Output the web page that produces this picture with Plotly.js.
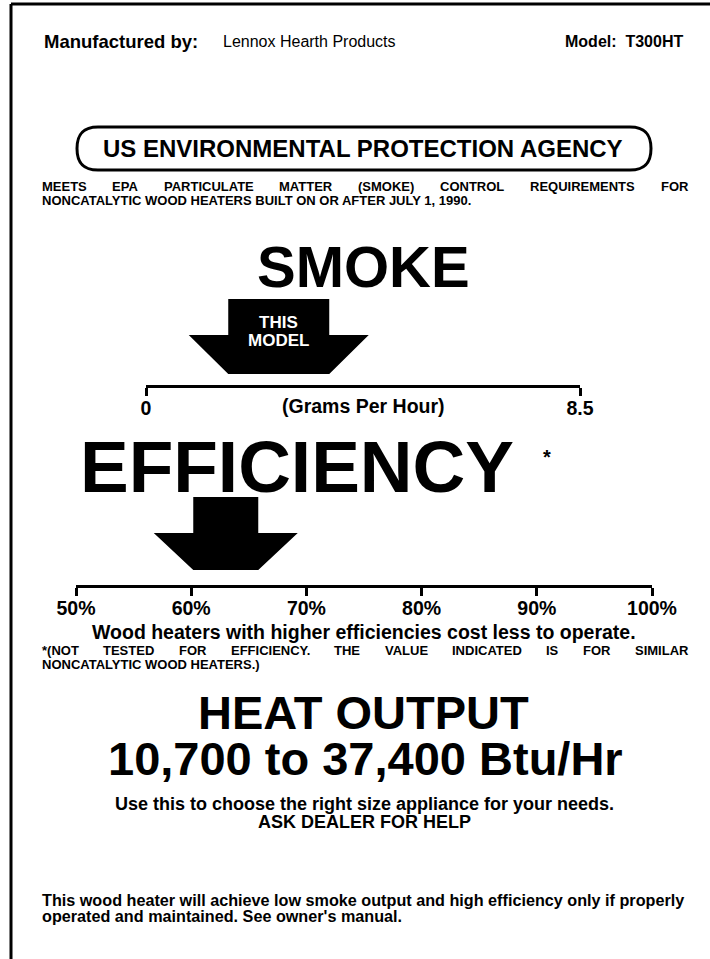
<!DOCTYPE html>
<html>
<head>
<meta charset="utf-8">
<script src="https://cdn.plot.ly/plotly-3.0.1.min.js"></script>
<style>html,body{margin:0;padding:0;background:#fff;}#chart{width:710px;height:959px;}</style>
</head>
<body>
<div id="chart"></div>
<script>
const manufacturer = "Lennox Hearth Products";
const modelName = "T300HT";
const smokeTickVals = [0, 8.5];
const smokeTickText = ["0", "8.5"];
const smokeValue = 2.6;          // grams per hour (arrow position)
const efficiencyTickVals = [50, 60, 70, 80, 90, 100];
const efficiencyTickText = ["50%", "60%", "70%", "80%", "90%", "100%"];
const efficiencyValue = 63;      // percent (arrow position)
const heatOutputRange = ["10,700", "37,400"];

// ---- layout helpers (pixel -> paper) ----
const W = 710, H = 959;
const px = x => x / W;
const py = y => 1 - y / H;
const FONT = "Liberation Sans, Arial, Helvetica, sans-serif";

function txt(text, x, y, size, opts = {}) {
  return {
    text: text, xref: "paper", yref: "paper", x: px(x), y: py(y),
    xanchor: opts.anchor || "center", yanchor: "middle", showarrow: false,
    font: {family: FONT, size: size, color: opts.color || "#000",
      weight: opts.weight === undefined ? 700 : opts.weight}
  };
}

// justified line: words spread between x0 and x1
const cv = document.createElement("canvas").getContext("2d");
function justified(line, x0, x1, y, size) {
  cv.font = "bold " + size + "px 'Liberation Sans', Arial, sans-serif";
  const words = line.split(" ");
  const widths = words.map(w => cv.measureText(w).width);
  const total = widths.reduce((a, b) => a + b, 0);
  const gap = (x1 - x0 - total) / (words.length - 1);
  let x = x0;
  return words.map((w, i) => {
    const a = txt(w, x, y, size, {anchor: "left"});
    x += widths[i] + gap;
    return a;
  });
}

// arrow polygon built from the value on the axis
function arrowTrace(value, rw, ww, top, sh, bot, xa, ya) {
  return {
    type: "scatter", mode: "lines", xaxis: xa, yaxis: ya,
    x: [value - rw, value + rw, value + rw, value + ww, value + rw, value - rw, value - ww, value - rw, value - rw],
    y: [top, top, sh, sh, bot, bot, sh, sh, top],
    fill: "toself", fillcolor: "#000", line: {width: 0, color: "#000"},
    hoverinfo: "skip", showlegend: false
  };
}

const smokeRange = [0, 8.5];
const effRange = [50, 100];
const smokeAxisPx = [146, 580];
const effAxisPx = [76, 652];
const sPer = (smokeRange[1] - smokeRange[0]) / (smokeAxisPx[1] - smokeAxisPx[0]);
const ePer = (effRange[1] - effRange[0]) / (effAxisPx[1] - effAxisPx[0]);

const traces = [
  arrowTrace(smokeValue, 50.5 * sPer, 90 * sPer, 86, 50, 11, "x", "y"),
  arrowTrace(efficiencyValue, 32.5 * ePer, 72 * ePer, 88, 52, 15, "x2", "y2")
];

const axisStyle = {
  showline: true, linewidth: 3, linecolor: "#000", ticks: "outside", ticklen: 8,
  tickwidth: 3, tickcolor: "#000", showgrid: false, zeroline: false, fixedrange: true,
  ticklabelstandoff: -4,
  tickfont: {family: FONT, size: 19.5, color: "#000", weight: 700}
};

const boxShape = (function () {
  const x0 = 77, x1 = 651, y0 = 127, y1 = 170, r = 21;
  const p = (x, y) => px(x) + "," + py(y);
  const path = "M" + p(x0 + r, y0) + " L" + p(x1 - r, y0) +
    " C" + p(x1 - 4, y0) + " " + p(x1, y0 + 10) + " " + p(x1, (y0 + y1) / 2) +
    " C" + p(x1, y1 - 10) + " " + p(x1 - 4, y1) + " " + p(x1 - r, y1) +
    " L" + p(x0 + r, y1) +
    " C" + p(x0 + 4, y1) + " " + p(x0, y1 - 10) + " " + p(x0, (y0 + y1) / 2) +
    " C" + p(x0, y0 + 10) + " " + p(x0 + 4, y0) + " " + p(x0 + r, y0) + " Z";
  return {type: "path", xref: "paper", yref: "paper", path: path, line: {color: "#000", width: 3}};
})();

const annotations = [
  txt("Manufactured by:", 42, 41, 18.5, {anchor: "left"}),
  txt(manufacturer, 221, 41, 16, {anchor: "left", weight: 400}),
  txt("Model:  " + modelName, 685, 41, 16, {anchor: "right"}),
  txt("US ENVIRONMENTAL PROTECTION AGENCY", 363, 148, 24),
  ...justified("MEETS EPA PARTICULATE MATTER (SMOKE) CONTROL REQUIREMENTS FOR", 40, 686, 187, 13),
  txt("NONCATALYTIC WOOD HEATERS BUILT ON OR AFTER JULY 1, 1990.", 40, 201, 13, {anchor: "left"}),
  txt("SMOKE", 363, 266, 58),
  {text: "THIS", xref: "x", yref: "paper", x: smokeValue, y: py(322), xanchor: "center", yanchor: "middle", showarrow: false,
    font: {family: FONT, size: 17, color: "#fff", weight: 700}},
  {text: "MODEL", xref: "x", yref: "paper", x: smokeValue, y: py(340), xanchor: "center", yanchor: "middle", showarrow: false,
    font: {family: FONT, size: 17, color: "#fff", weight: 700}},
  {text: "(Grams Per Hour)", xref: "x", yref: "paper", x: (smokeRange[0] + smokeRange[1]) / 2, y: py(406), xanchor: "center", yanchor: "middle", showarrow: false,
    font: {family: FONT, size: 19.5, color: "#000", weight: 700}},
  txt("EFFICIENCY", 297, 467, 73),
  txt("*", 547, 457, 20),
  txt("Wood heaters with higher efficiencies cost less to operate.", 364, 632, 19.5),
  ...justified("*(NOT TESTED FOR EFFICIENCY. THE VALUE INDICATED IS FOR SIMILAR", 40, 686, 650, 13),
  txt("NONCATALYTIC WOOD HEATERS.)", 40, 664, 13, {anchor: "left"}),
  txt("HEAT OUTPUT", 363, 712, 47),
  txt(heatOutputRange[0] + " to " + heatOutputRange[1] + " Btu/Hr", 365, 758, 47),
  txt("Use this to choose the right size appliance for your needs.", 364, 804, 18),
  txt("ASK DEALER FOR HELP", 364, 822, 18),
  txt("This wood heater will achieve low smoke output and high efficiency only if properly", 40, 900, 16.2, {anchor: "left"}),
  txt("operated and maintained. See owner's manual.", 40, 916, 16.2, {anchor: "left"})
];

const layout = {
  width: W, height: H, margin: {l: 0, r: 0, t: 0, b: 0},
  paper_bgcolor: "#fff", plot_bgcolor: "rgba(0,0,0,0)", showlegend: false,
  xaxis: Object.assign({}, axisStyle, {
    domain: [px(smokeAxisPx[0]), px(smokeAxisPx[1])], range: smokeRange, anchor: "y",
    tickmode: "array", tickvals: smokeTickVals, ticktext: smokeTickText
  }),
  yaxis: {domain: [py(385), py(299)], range: [0, 86], visible: false, fixedrange: true},
  xaxis2: Object.assign({}, axisStyle, {
    domain: [px(effAxisPx[0]), px(effAxisPx[1])], range: effRange, anchor: "y2",
    tickmode: "array", tickvals: efficiencyTickVals, ticktext: efficiencyTickText
  }),
  yaxis2: {domain: [py(585), py(497)], range: [0, 88], visible: false, fixedrange: true},
  shapes: [
    {type: "line", xref: "paper", yref: "paper", x0: px(11), x1: px(712), y0: py(4), y1: py(4), line: {color: "#000", width: 3}},
    {type: "line", xref: "paper", yref: "paper", x0: px(11), x1: px(11), y0: py(4), y1: py(961), line: {color: "#000", width: 3}},
    boxShape
  ],
  annotations: annotations
};

Plotly.newPlot("chart", traces, layout, {displayModeBar: false, staticPlot: true});
</script>
</body>
</html>
